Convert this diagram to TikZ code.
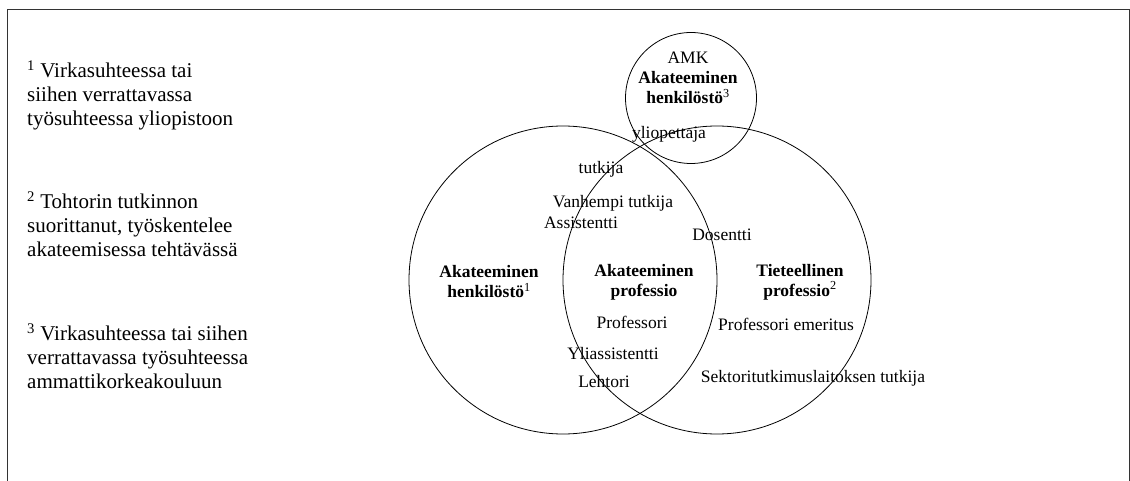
\documentclass[tikz,border=0pt]{standalone}
\usepackage{fontspec}
\setmainfont{Liberation Serif}
\usepackage{tikz}
\usetikzlibrary{positioning}

\tikzset{
  venn/.style={circle, draw, line width=0.8pt, inner sep=0pt},
  job/.style={font=\fontsize{17.5}{20}\selectfont, inner sep=0pt},
  head/.style={font=\fontsize{17.5}{20}\selectfont\bfseries, align=center, inner sep=0pt},
  note/.style={font=\fontsize{21}{23.8}\selectfont, align=left, anchor=west, inner sep=0pt}
}
\newcommand{\sfn}[1]{\textsuperscript{\mdseries #1}}

\begin{document}
\begin{tikzpicture}[x=1pt, y=-1pt]
\useasboundingbox (0,0) rectangle (1130,481);
\draw[black!80, line width=0.9pt] (7,481) -- (7,9) -- (1129,9) -- (1129,481);

% footnotes
\node[note] (n1) at (27,95) {\sfn{1} Virkasuhteessa tai\\siihen verrattavassa\\työsuhteessa yliopistoon};
\node[note] (n2) at (27,224) {\sfn{2} Tohtorin tutkinnon\\suorittanut, työskentelee\\akateemisessa tehtävässä};
\node[note] (n3) at (27,356) {\sfn{3} Virkasuhteessa tai siihen\\verrattavassa työsuhteessa\\ammattikorkeakouluun};

% circles
\node[venn, minimum size=308pt] (henk) at (563,280) {};
\node[venn, minimum size=308pt] (tiet) at (717,280) {};
\node[venn, minimum size=131pt] (amk) at (691,98) {};

% headings
\node[head] (hamk) at (688,78) {\mdseries AMK\\Akateeminen\\henkilöstö\sfn{3}};
\node[head] (hhenk) at (489,282) {Akateeminen\\henkilöstö\sfn{1}};
\node[head] (hprof) at (644,282) {Akateeminen\\professio};
\node[head] (htiet) at (800,282) {Tieteellinen\\professio\sfn{2}};

% titles
\node[job] (ylop) at (669,134) {yliopettaja};
\node[job] (tutk) at (601,169) {tutkija};
\node[job] (vanh) at (613,203) {Vanhempi tutkija};
\node[job] (assi) at (581,223) {Assistentti};
\node[job] (dose) at (722,235) {Dosentti};
\node[job] (prof) at (632,322) {Professori};
\node[job] (emer) at (786,324) {Professori emeritus};
\node[job] (ylia) at (613,354) {Yliassistentti};
\node[job] (leht) at (604,382) {Lehtori};
\node[job] (sekt) at (813,378) {Sektoritutkimuslaitoksen tutkija};
\end{tikzpicture}
\end{document}
